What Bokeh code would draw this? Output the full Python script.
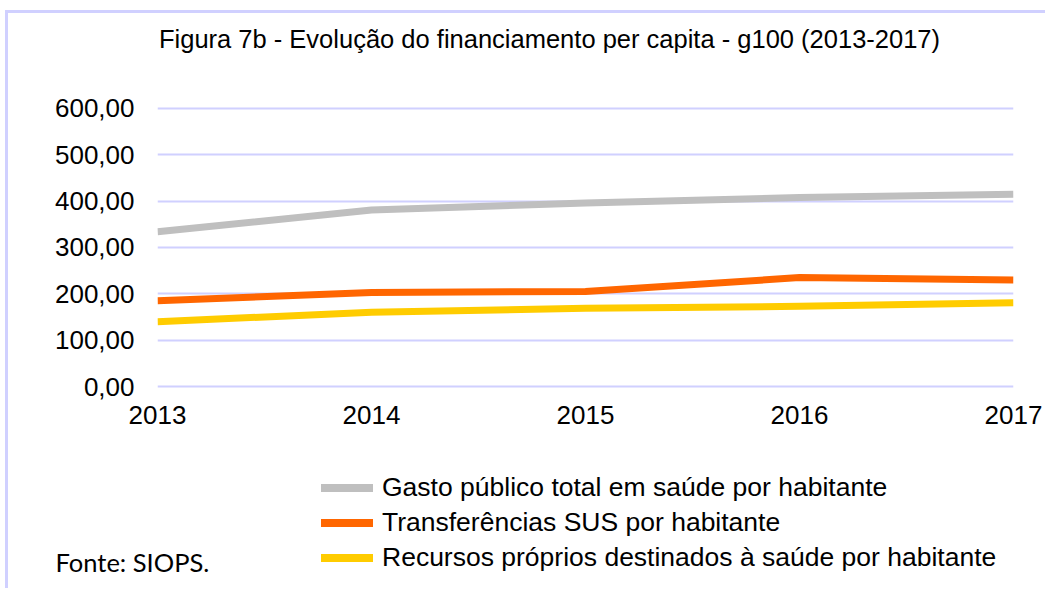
from bokeh.plotting import figure
from bokeh.layouts import column
from bokeh.models import (Range1d, FixedTicker, CustomJSTickFormatter, Label,
                          Legend, LegendItem)
from bokeh.embed import file_html
from bokeh.resources import INLINE

years = [2013, 2014, 2015, 2016, 2017]
gasto_total = [334, 381, 396, 408, 415]
transf_sus = [185, 203, 205, 235, 230]
recursos_proprios = [140, 160, 169, 173, 181]

series_names = [
    "Gasto público total em saúde por habitante",
    "Transferências SUS por habitante",
    "Recursos próprios destinados à saúde por habitante",
]
series_colors = ["#bfbfbf", "#ff6600", "#ffcc00"]
y_ticks = [0, 100, 200, 300, 400, 500, 600]

title_text = "Figura 7b - Evolução do financiamento per capita - g100 (2013-2017)"
source_text = "Fonte: SIOPS."

FONT = "Liberation Sans"
series_values = [gasto_total, transf_sus, recursos_proprios]

# ---- main chart (frame reaches the top so the title sits inside it) ----
p = figure(width=1040, height=435, output_backend="svg", toolbar_location=None,
           x_range=Range1d(2013, 2017), y_range=Range1d(-4.3, 805),
           min_border_left=149, min_border_right=35, min_border_top=0,
           min_border_bottom=60, title=None)
p.frame_align = False
p.background_fill_color = "white"
p.border_fill_color = "white"
p.outline_line_color = None

p.xgrid.grid_line_color = None
p.ygrid.grid_line_color = "#d0d0ff"
p.ygrid.grid_line_width = 2
p.ygrid.ticker = FixedTicker(ticks=y_ticks)

p.xaxis.ticker = FixedTicker(ticks=years)
p.yaxis.ticker = FixedTicker(ticks=y_ticks)
p.yaxis.formatter = CustomJSTickFormatter(code="return tick.toFixed(2).replace('.', ',');")
for ax in (p.xaxis, p.yaxis):
    ax.axis_line_color = None
    ax.major_tick_line_color = None
    ax.minor_tick_line_color = None
    ax.major_tick_out = 0
    ax.major_tick_in = 0
    ax.major_label_text_font = FONT
    ax.major_label_text_font_size = "26px"
    ax.major_label_text_color = "black"
p.yaxis.major_label_standoff = 23
p.xaxis.major_label_standoff = 17

for vals, col in zip(series_values, series_colors):
    p.line(years, vals, line_color=col, line_width=7, line_join="round")

p.add_layout(Label(x=392, y=350, x_units="screen", y_units="screen",
                   text=title_text, text_align="center", text_baseline="middle",
                   text_font=FONT, text_font_size="25.5px", text_color="black"))

# ---- legend + source panel (frame fills the whole canvas) ----
p2 = figure(width=1040, height=143, output_backend="svg", toolbar_location=None,
            x_range=Range1d(0, 1), y_range=Range1d(0, 1),
            x_axis_location=None, y_axis_location=None,
            min_border_left=0, min_border_right=0, min_border_top=0,
            min_border_bottom=0, title=None)
p2.frame_align = False
p2.background_fill_color = "white"
p2.border_fill_color = "white"
p2.outline_line_color = None
p2.xgrid.grid_line_color = None
p2.ygrid.grid_line_color = None

items = []
for name, col, vals in zip(series_names, series_colors, series_values):
    # same series, out of this panel's ranges: serves only as legend key
    r = p2.line(years, vals, line_color=col, line_width=8, line_cap="round")
    items.append(LegendItem(label=name, renderers=[r]))

legend = Legend(items=items, location=(313, 16.5), orientation="vertical",
                glyph_width=52, glyph_height=35, label_height=35, spacing=0,
                label_standoff=9, padding=0, margin=0,
                border_line_color=None, background_fill_alpha=0,
                label_text_font=FONT, label_text_font_size="26.5px",
                label_text_color="black")
p2.add_layout(legend, "center")

p2.add_layout(Label(x=47, y=30, x_units="screen", y_units="screen",
                    text=source_text, text_align="left", text_baseline="middle",
                    text_font="Lato", text_font_size="25.5px", text_color="black"))

layout = column(p, p2, spacing=0)
layout.styles = {"margin-left": "8px", "margin-top": "13px",
                 "box-shadow": "-3px -3px 0 0 #d0d0ff"}

open("out.html", "w").write(file_html(layout, INLINE))
